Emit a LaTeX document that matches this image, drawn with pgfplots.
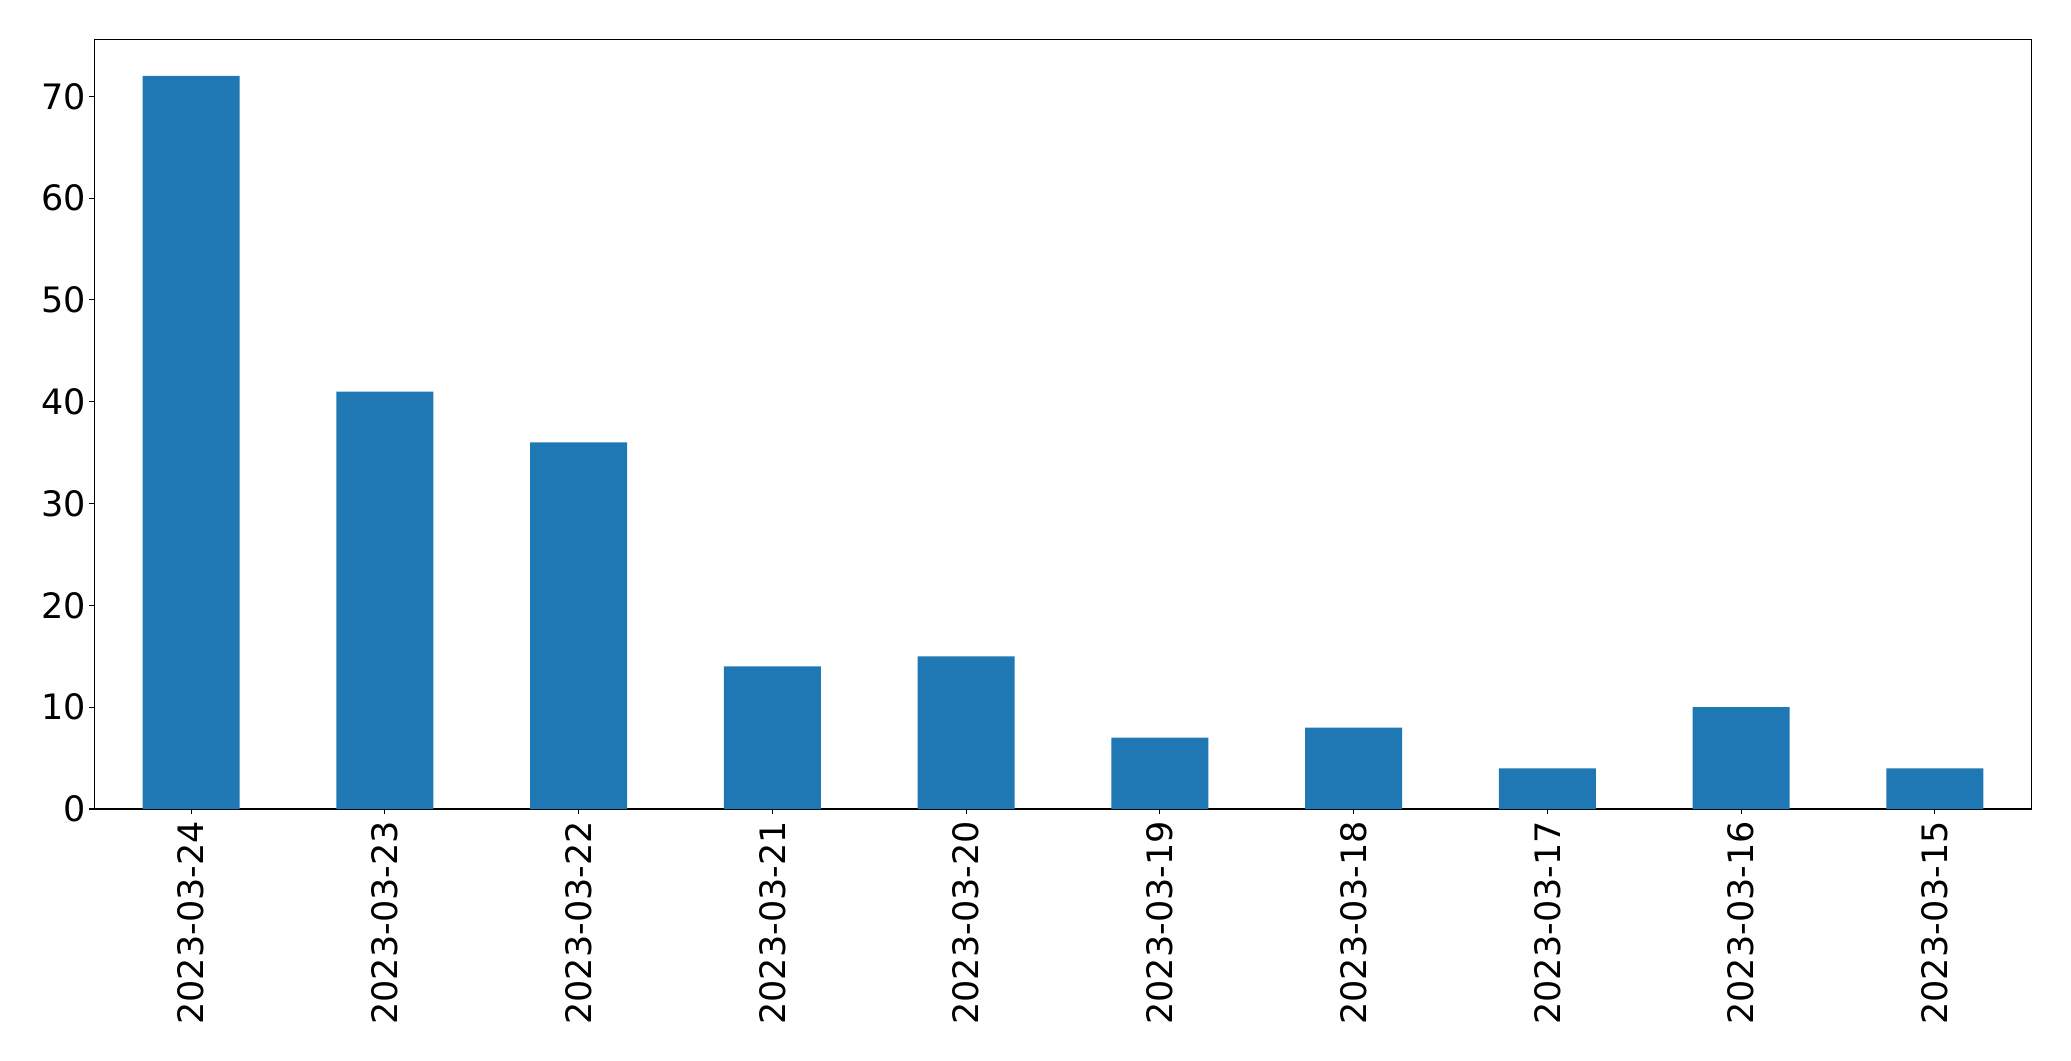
\documentclass[border=0pt]{standalone}
\usepackage{fontspec}
\setmainfont{DejaVu Sans}
\usepackage{pgfplots}
\pgfplotsset{compat=1.18}
\definecolor{barblue}{HTML}{1F77B4}
\begin{document}
\fontsize{35bp}{41bp}\selectfont
\begin{tikzpicture}
\begin{axis}[
  at={(0,0)}, anchor=south west,
  scale only axis,
  width=1937.4bp, height=769.7bp,
  xmin=-0.5, xmax=9.5,
  ymin=0, ymax=75.6,
  xtick=data,
  xticklabels={2023-03-24,2023-03-23,2023-03-22,2023-03-21,2023-03-20,2023-03-19,2023-03-18,2023-03-17,2023-03-16,2023-03-15},
  ytick={0,10,20,30,40,50,60,70},
  tick align=outside,
  xtick pos=bottom, ytick pos=left,
  major tick length=5bp,
  tick style={line width=1.1bp, black},
  axis line style={line width=1.1bp},
  /pgf/number format/assume math mode=true,
  xticklabel style={rotate=90, anchor=east, inner sep=7bp, font=\fontsize{35bp}{41bp}\selectfont},
  yticklabel style={anchor=east, inner sep=3bp, font=\fontsize{35bp}{41bp}\selectfont},
]
\addplot[ybar, bar width=0.5, fill=barblue, draw=none] coordinates {
  (0,72) (1,41) (2,36) (3,14) (4,15) (5,7) (6,8) (7,4) (8,10) (9,4)
};
\end{axis}
\path[use as bounding box] (-94.3bp,-252bp) rectangle (1976.7bp,809bp);
\end{tikzpicture}
\end{document}
